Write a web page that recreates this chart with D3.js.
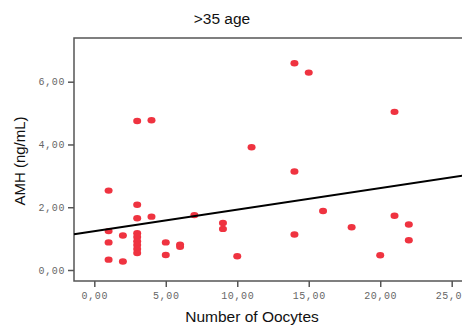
<!DOCTYPE html>
<html>
<head>
<meta charset="utf-8">
<script src="https://cdn.jsdelivr.net/npm/d3@7"></script>
<style>
    body { margin: 0; background: white; }
    svg { display: block; }
</style>
</head>
<body>
<svg id="view" width="462" height="326"></svg>
<script>
// DATA
var OOCYTES = [
    1, 1, 1, 1,
    2, 2,
    3, 3, 3, 3, 3, 3, 3, 3, 3,
    4, 4,
    5, 5,
    6, 6,
    7,
    9, 9,
    10,
    11,
    14, 14, 14,
    15,
    16,
    18,
    20,
    21, 21,
    22, 22,
];
var AMH = [
    2.53, 1.24, 0.88, 0.33,
    1.10, 0.27,
    4.75, 2.08, 1.65, 1.17, 1.05, 0.92, 0.80, 0.67, 0.54,
    4.77, 1.70,
    0.88, 0.48,
    0.81, 0.74,
    1.75,
    1.50, 1.31,
    0.44,
    3.91,
    6.59, 3.14, 1.13,
    6.29,
    1.88,
    1.36,
    0.47,
    5.04, 1.73,
    1.45, 0.95,
];

var FIT = {intercept: 1.24, slope: 0.0685};

var X_TICKS = [0, 5, 10, 15, 20, 25];
var X_TICK_LABELS = ["0,00", "5,00", "10,00", "15,00", "20,00", "25,00"];
var Y_TICKS = [0, 2, 4, 6];
var Y_TICK_LABELS = ["0,00", "2,00", "4,00", "6,00"];

var TITLE = ">35 age";
var X_TITLE = "Number of Oocytes";
var Y_TITLE = "AMH (ng/mL)";

// STYLE
var DOT = "#ef3340";
var FRAME = "#555";
var TICK_TEXT = "#666";


function main() {
    var svg = d3.select("#view");

    // x: 0 -> 94.3px, 25 -> 451.7px ; y: 0 -> 270px, 6 -> 81.7px
    var x = d3.scaleLinear().domain([0, 25]).range([94.3, 451.7]);
    var y = d3.scaleLinear().domain([0, 6]).range([270, 81.7]);
    var left = 74, right = 475, top = 38, bottom = 281;
    var xMin = x.invert(left), xMax = x.invert(right);

    // frame
    svg.append("rect")
        .attr("x", left)
        .attr("y", top)
        .attr("width", right - left)
        .attr("height", bottom - top)
        .attr("fill", "none")
        .attr("stroke", FRAME)
        .attr("stroke-width", 1.5)
        ;

    var xAxis = svg.append("g")
        .attr("transform", "translate(0," + bottom + ")")
        .call(d3.axisBottom(x)
            .tickValues(X_TICKS)
            .tickSize(6)
            .tickPadding(5)
            .tickFormat(function(d, i) { return X_TICK_LABELS[i]; }))
        ;
    var yAxis = svg.append("g")
        .attr("transform", "translate(" + left + ",0)")
        .call(d3.axisLeft(y)
            .tickValues(Y_TICKS)
            .tickSize(6)
            .tickPadding(3)
            .tickFormat(function(d, i) { return Y_TICK_LABELS[i]; }))
        ;
    [xAxis, yAxis].forEach(function(a) {
        a.select(".domain").remove();
        a.selectAll(".tick line")
            .attr("stroke", FRAME)
            .attr("stroke-width", 1.5);
        a.selectAll(".tick text")
            .attr("fill", TICK_TEXT)
            .attr("font-family", "Liberation Mono, DejaVu Sans Mono, monospace")
            .attr("font-size", 10)
            .attr("letter-spacing", 0.6);
    });

    // points
    svg.append("g")
        .selectAll("ellipse")
        .data(OOCYTES)
        .join("ellipse")
        .attr("cx", function(d) { return x(d); })
        .attr("cy", function(d, i) { return y(AMH[i]); })
        .attr("rx", 4)
        .attr("ry", 3.2)
        .attr("fill", DOT)
        ;

    // fit line
    svg.append("line")
        .attr("x1", x(xMin))
        .attr("y1", y(FIT.intercept + FIT.slope * xMin))
        .attr("x2", x(xMax))
        .attr("y2", y(FIT.intercept + FIT.slope * xMax))
        .attr("stroke", "black")
        .attr("stroke-width", 2)
        ;

    // titles
    svg.append("text")
        .attr("x", 222)
        .attr("y", 24)
        .attr("text-anchor", "middle")
        .attr("font-family", "Liberation Sans, Arial, sans-serif")
        .attr("font-size", 15.5)
        .attr("fill", "#111")
        .text(TITLE)
        ;
    svg.append("text")
        .attr("x", 252)
        .attr("y", 322)
        .attr("text-anchor", "middle")
        .attr("font-family", "Liberation Sans, Arial, sans-serif")
        .attr("font-size", 15.5)
        .attr("fill", "#111")
        .text(X_TITLE)
        ;
    svg.append("text")
        .attr("transform", "translate(25,161) rotate(-90)")
        .attr("text-anchor", "middle")
        .attr("font-family", "Liberation Sans, Arial, sans-serif")
        .attr("font-size", 15)
        .attr("fill", "#111")
        .text(Y_TITLE)
        ;
}

main();
</script>
</body>
</html>
